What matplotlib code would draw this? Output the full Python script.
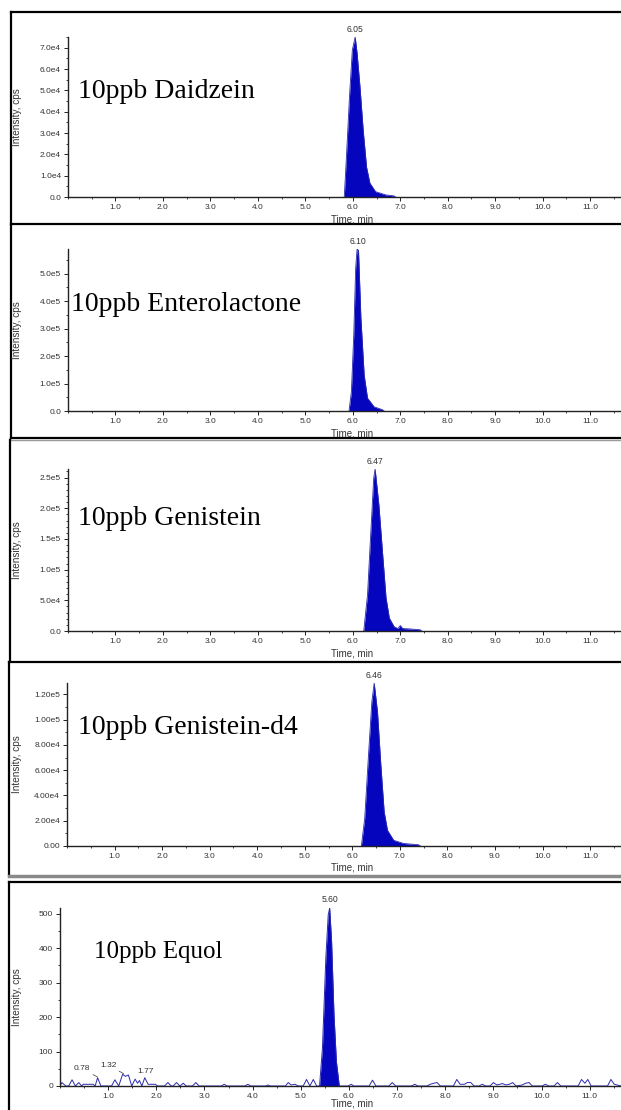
import matplotlib
matplotlib.use("Agg")
import matplotlib.pyplot as plt
from matplotlib.lines import Line2D
from matplotlib.ticker import MultipleLocator

# ---- data (time in min, intensity in cps) ----
daidzein_t = [5.82, 5.87, 5.93, 5.99, 6.05, 6.09, 6.15, 6.22, 6.29, 6.36, 6.48, 6.69, 6.87, 6.90]
daidzein_i = [0, 2.07e4, 4.7e4, 6.9e4, 7.5e4, 6.75e4, 5.2e4, 3.1e4, 1.4e4, 6.5e3, 2.5e3, 1.0e3, 5e2, 0]

entero_t = [5.92, 5.97, 6.02, 6.06, 6.09, 6.12, 6.17, 6.24, 6.31, 6.45, 6.62, 6.66]
entero_i = [0, 0.7e5, 2.77e5, 5.2e5, 5.9e5, 5.85e5, 3.4e5, 1.3e5, 0.47e5, 0.15e5, 0.05e5, 0]

genistein_t = [6.23, 6.31, 6.38, 6.44, 6.47, 6.55, 6.63, 6.70, 6.77, 6.87, 6.95, 7.00, 7.05, 7.18, 7.42, 7.45]
genistein_i = [0, 5.9e4, 1.62e5, 2.49e5, 2.64e5, 2.05e5, 1.24e5, 5.4e4, 2.1e4, 7e3, 4e3, 9e3, 4e3, 3.5e3, 2e3, 0]

gend4_t = [6.19, 6.26, 6.34, 6.41, 6.46, 6.53, 6.60, 6.67, 6.74, 6.87, 7.08, 7.39, 7.43]
gend4_i = [0, 2.16e4, 7.2e4, 1.14e5, 1.29e5, 1.06e5, 6.4e4, 2.7e4, 1.24e4, 4.5e3, 2e3, 1e3, 0]

equol_t = [0.0, 0.04, 0.12, 0.18, 0.25, 0.32, 0.39, 0.45, 0.48, 0.69, 0.73, 0.78, 0.85,
           1.07, 1.14, 1.22, 1.30, 1.36, 1.42, 1.49, 1.56, 1.61, 1.65, 1.70, 1.76, 1.83,
           1.98, 2.03, 2.17, 2.24, 2.31, 2.35, 2.42, 2.49, 2.56, 2.62, 2.75, 2.82, 2.89,
           3.35, 3.41, 3.47, 3.84, 3.90, 3.96, 4.27, 4.32, 4.37, 4.68, 4.74, 4.80, 4.88,
           4.95, 5.05, 5.12, 5.19, 5.26, 5.33, 5.39, 5.45, 5.52, 5.57, 5.60, 5.64, 5.69,
           5.74, 5.80, 5.98, 6.05, 6.10, 6.42, 6.49, 6.56, 6.83, 6.90, 6.97, 7.30, 7.37,
           7.43, 7.62, 7.69, 7.76, 7.83, 7.90, 8.17, 8.24, 8.31, 8.40, 8.46, 8.53, 8.60,
           8.70, 8.77, 8.84, 8.93, 9.00, 9.07, 9.19, 9.26, 9.33, 9.40, 9.47, 9.60, 9.67,
           9.74, 9.81, 10.01, 10.08, 10.15, 10.26, 10.33, 10.40, 10.76, 10.83, 10.90,
           10.96, 11.03, 11.37, 11.44, 11.51, 11.65]
equol_i = [0, 10, 0, 0, 18, 0, 10, 0, 5, 5, 0, 24, 0,
           0, 18, 0, 34, 28, 32, 0, 20, 8, 16, 0, 24, 5,
           5, 0, 0, 10, 0, 0, 10, 0, 8, 0, 0, 10, 0,
           0, 5, 0, 0, 5, 0, 0, 3, 0, 0, 10, 3, 5,
           0, 0, 19, 0, 19, 0, 0, 110, 371, 497, 517, 420, 206,
           71, 0, 0, 5, 0, 0, 17, 0, 0, 10, 0, 0, 5,
           0, 0, 5, 8, 10, 0, 0, 19, 5, 5, 10, 10, 0,
           0, 5, 0, 0, 10, 3, 7, 3, 5, 10, 0, 3, 8,
           10, 0, 0, 5, 0, 0, 10, 0, 0, 19, 8,
           19, 0, 0, 19, 5, 0]
equol_peak_range = (5.39, 5.80)
equol_minor_peaks = [0.78, 1.32, 1.77]

titles = ["10ppb Daidzein", "10ppb Enterolactone", "10ppb Genistein",
          "10ppb Genistein-d4", "10ppb Equol"]
apex_labels = ["6.05", "6.10", "6.47", "6.46", "5.60"]
apex_times = [6.05, 6.10, 6.47, 6.46, 5.60]
y_ticks = [
    [0, 1e4, 2e4, 3e4, 4e4, 5e4, 6e4, 7e4],
    [0, 1e5, 2e5, 3e5, 4e5, 5e5],
    [0, 5e4, 1e5, 1.5e5, 2e5, 2.5e5],
    [0, 2e4, 4e4, 6e4, 8e4, 1e5, 1.2e5],
    [0, 100, 200, 300, 400, 500],
]
y_tick_labels = [
    ["0.0", "1.0e4", "2.0e4", "3.0e4", "4.0e4", "5.0e4", "6.0e4", "7.0e4"],
    ["0.0", "1.0e5", "2.0e5", "3.0e5", "4.0e5", "5.0e5"],
    ["0.0", "5.0e4", "1.0e5", "1.5e5", "2.0e5", "2.5e5"],
    ["0.00", "2.00e4", "4.00e4", "6.00e4", "8.00e4", "1.00e5", "1.20e5"],
    ["0", "100", "200", "300", "400", "500"],
]
y_minor = [5e3, 5e4, 1e4, 1e4, 50]
x_ticks = [1, 2, 3, 4, 5, 6, 7, 8, 9, 10, 11]

W, H = 621, 1110
fig = plt.figure(figsize=(W / 100, H / 100), dpi=100)

SANS = "Liberation Sans"
SERIF = "Liberation Serif"
FILL = "#0505bd"
EDGE = "#2a2ab0"


def fx(x):
    return x / W


def fy(y):
    return 1 - y / H


def fig_line(x0, y0, x1, y1, color="black", lw=1.6):
    fig.add_artist(Line2D([fx(x0), fx(x1)], [fy(y0), fy(y1)],
                          transform=fig.transFigure, color=color, lw=lw))


# panel frames (pixel coordinates from the top-left)
fig_line(11, 12, 625, 12)
fig_line(11, 12, 11, 224)
fig_line(11, 224, 625, 224)
fig_line(11, 225, 11, 438)
fig_line(11, 438, 625, 438)
fig_line(10, 440, 625, 440, color="#9a9a9a", lw=1.0)
fig_line(10, 440, 10, 661)
fig_line(9, 662, 625, 662)
fig_line(9, 662, 9, 875)
fig_line(9, 876, 625, 876, color="#8a8a8a", lw=2.5)
fig_line(9, 882, 625, 882)
fig_line(9, 882, 9, 1112)

# axes boxes: (left, top, bottom) in pixels
boxes = [(68, 37, 197), (68, 249, 411), (68, 469, 631), (67, 683, 846), (60, 908, 1086)]
title_pos = [(78, 98, 20), (71, 311, 20), (78, 525, 20), (78, 734, 20), (94, 958, 18)]
xlabel_gap = [22, 22, 22, 22, 17]
traces = [(daidzein_t, daidzein_i), (entero_t, entero_i), (genistein_t, genistein_i),
          (gend4_t, gend4_i), (equol_t, equol_i)]

for k, (left, top, bottom) in enumerate(boxes):
    ax = fig.add_axes([fx(left), fy(bottom), fx(621 - left), (bottom - top) / H])
    t, inten = traces[k]
    ymax = max(inten)
    if k < 4:
        ax.fill_between(t, inten, 0, color=FILL, lw=0)
        ax.plot(t, inten, color=EDGE, lw=0.6)
    else:
        ax.plot(t, inten, color=EDGE, lw=0.7)
        lo, hi = equol_peak_range
        ax.fill_between(t, inten, 0, where=[lo <= v <= hi for v in t],
                        color=FILL, lw=0)
        for j, mt in enumerate(equol_minor_peaks):
            h = inten[t.index(mt)] if mt in t else inten[min(range(len(t)), key=lambda n: abs(t[n] - mt))]
            if j < 2:
                ax.annotate(f"{mt:.2f}", xy=(mt, h + 2), xytext=(mt - 0.32, h + 22),
                            fontsize=6, family=SANS, color="#333333", ha="center",
                            arrowprops=dict(arrowstyle="-", color="#555555", lw=0.6,
                                            shrinkA=0, shrinkB=0))
            else:
                ax.text(mt, h + 14, f"{mt:.2f}", fontsize=6, family=SANS,
                        color="#333333", ha="center")
    ax.set_xlim(0, 11.65)
    ax.set_ylim(0, ymax)
    ax.text(apex_times[k], ymax * 1.02, apex_labels[k], ha="center", va="bottom",
            fontsize=6.2, family=SANS, color="#333333", clip_on=False)

    for s in ["top", "right"]:
        ax.spines[s].set_visible(False)
    for s in ["left", "bottom"]:
        ax.spines[s].set_linewidth(1.0)
        ax.spines[s].set_color("#222222")

    ax.set_xticks(x_ticks)
    ax.set_xticklabels([f"{v:.1f}" for v in x_ticks])
    ax.xaxis.set_minor_locator(MultipleLocator(0.5))
    ax.set_yticks(y_ticks[k])
    ax.set_yticklabels(y_tick_labels[k])
    ax.yaxis.set_minor_locator(MultipleLocator(y_minor[k]))
    ax.tick_params(which="major", direction="out", length=3, width=0.7,
                   labelsize=6, pad=2, colors="#222222")
    ax.tick_params(which="minor", direction="out", length=1.6, width=0.6,
                   colors="#222222")
    for lab in ax.get_xticklabels() + ax.get_yticklabels():
        lab.set_family(SANS)
        lab.set_color("#333333")

    fig.text(fx(17), fy((top + bottom) / 2), "Intensity, cps", rotation=90,
             ha="center", va="center", fontsize=7.2, family=SANS, color="#333333")
    fig.text(fx(352), fy(bottom + xlabel_gap[k]), "Time, min", ha="center", va="center",
             fontsize=7, family=SANS, color="#333333")

    tx, ty, fs = title_pos[k]
    fig.text(fx(tx), fy(ty), titles[k], ha="left", va="baseline",
             fontsize=fs, family=SERIF, color="black")

fig.savefig("out.png", dpi=100)
